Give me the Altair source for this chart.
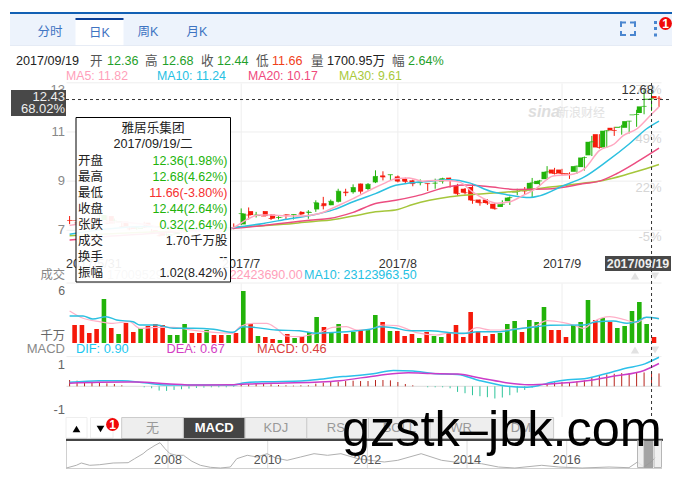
import altair as alt
import pandas as pd

FONT = "Liberation Sans, Noto Sans CJK SC"
GREEN, RED = "#22b30a", "#f5190a"

# ---------- daily candles (2nd of the last two is the session after the crosshair) ----------
open_ = [7.42,7.40,7.42,7.50,7.42,7.58,7.31,7.35,7.12,7.06,7.31,7.00,6.88,6.78,6.85,6.92,7.08,7.02,6.97,7.02,
         7.00,7.00,7.15,7.24,7.78,7.58,7.78,7.64,7.50,7.64,7.62,7.75,7.71,7.85,8.10,8.02,8.16,8.57,8.55,8.90,
         8.68,8.95,9.23,9.25,9.19,9.10,9.03,8.92,8.91,8.91,8.98,9.14,8.82,8.69,8.76,8.25,8.25,8.08,7.95,8.18,
         8.54,8.65,8.62,8.88,9.08,9.47,9.47,9.32,9.38,9.57,10.05,10.91,10.37,11.17,11.17,11.17,11.68,11.77,12.31,12.46]
close = [7.40,7.30,7.35,7.42,7.62,7.28,7.38,7.15,7.06,7.10,7.13,6.92,6.78,6.84,6.93,7.10,7.00,6.95,7.03,6.98,
         6.97,7.10,7.11,7.68,7.62,7.62,7.58,7.48,7.52,7.62,7.64,7.66,7.74,8.12,8.00,8.18,8.59,8.53,8.74,8.59,
         8.87,9.19,9.17,9.26,9.00,8.99,8.90,8.95,8.90,8.92,9.10,9.03,8.49,8.53,8.22,8.12,8.11,7.88,8.06,8.33,
         8.58,8.60,8.93,9.01,9.38,9.31,9.31,9.27,9.61,9.96,10.60,10.37,11.05,11.06,11.21,11.44,11.71,12.04,12.35,12.37]
high = [7.58,7.52,7.48,7.55,7.70,7.60,7.48,7.38,7.15,7.18,7.35,7.05,6.92,6.88,6.98,7.15,7.10,7.05,7.08,7.05,
        7.03,7.14,7.28,7.89,7.93,7.75,7.78,7.66,7.58,7.64,7.64,7.78,7.82,8.22,8.36,8.25,8.69,8.69,8.87,8.90,
        8.92,9.44,9.40,9.26,9.23,9.14,9.06,9.07,8.91,9.10,9.14,9.14,8.89,8.72,8.89,8.25,8.27,8.11,8.22,8.38,
        8.69,8.76,9.13,9.05,9.61,9.54,9.50,9.36,9.63,10.00,10.84,10.91,11.07,11.21,11.29,11.45,11.90,12.69,12.72,12.46]
low = [7.25,7.25,7.30,7.38,7.40,7.25,7.28,7.12,7.00,7.02,7.10,6.88,6.75,6.75,6.82,6.90,6.96,6.92,6.94,6.95,
       6.94,6.98,7.04,7.21,7.44,7.52,7.58,7.42,7.44,7.44,7.44,7.62,7.47,7.75,7.85,8.02,8.13,8.39,8.49,8.49,
       8.63,8.92,9.03,9.03,8.95,8.92,8.79,8.83,8.60,8.69,8.90,8.74,8.41,8.46,8.08,8.00,8.03,7.84,7.95,8.03,
       8.43,8.46,8.35,8.81,9.05,9.27,9.21,9.09,9.30,9.43,10.02,10.32,10.36,10.84,10.89,10.94,11.21,11.72,11.85,12.02]
volume = [18,18,10,14,44,15,9,20,11,15,17,19,18,8,8,19,10,10,13,8,
          8,8,10,52,19,7,6,4,3,9,5,7,11,26,16,10,19,9,11,13,
          13,28,21,12,12,7,9,5,11,7,6,11,18,6,31,11,7,9,10,19,
          22,11,23,21,36,13,13,6,18,21,43,23,25,21,15,17,32,41,19,6]

# ---------- moving averages (bar position, value) ----------
ma5_i = [0,5,10,15,20,22,24,25.4,27,29,31.3,33.5,35.8,38,40.6,42.4,43.7,45.5,47.3,49,51,52.3,54,55.5,57.3,59,60.8,62.6,64.8,67,69,71,73,74.2,76,77.8,79]
ma5_v = [7.2,7.35,7.25,6.95,6.98,7.12,7.48,7.62,7.62,7.58,7.58,7.68,7.98,8.29,8.69,8.94,9.10,9.13,9.00,9.03,9.02,8.96,8.56,8.29,8.10,8.16,8.42,8.72,9.21,9.26,9.50,10.24,10.51,10.85,11.12,11.66,12.02]
ma10_i = [0,5,10,15,20,22,26,29.5,32.6,35.5,38,41,43.7,45.5,48,51,53.7,56.4,58.6,61.7,63,66,69,72,75,77.3,79]
ma10_v = [6.84,7.05,7.15,7.10,7.00,7.11,7.28,7.47,7.62,7.85,8.16,8.49,8.83,8.92,8.99,9.06,8.92,8.59,8.45,8.33,8.40,8.79,9.17,9.80,10.51,11.12,11.44]
ma20_i = [0,5,10,15,20,22,26,29.5,32.6,34.8,38,41,43.7,46.4,51,53,56,60,64,69,71,73.3,76,79]
ma20_v = [6.6,6.75,6.85,6.95,7.03,7.08,7.20,7.32,7.42,7.48,7.73,8.09,8.22,8.39,8.78,8.84,8.78,8.66,8.68,8.90,9.00,9.30,9.77,10.34]
ma30_i = [0,5,10,15,20,22,26,30,33,35,38,41,44,46,51,55.5,60,64.4,69,71.5,74.2,76,79]
ma30_v = [6.78,6.85,6.92,6.97,7.02,7.11,7.19,7.28,7.37,7.42,7.58,7.75,7.85,8.05,8.36,8.49,8.59,8.76,8.92,9.03,9.23,9.39,9.68]

vma5_i = [0,1.8,4,5.8,8,9.4,11.7,13.9,15.7,18.3,21.9,22.8,24.6,26.4,27.7,29,30.8,32.2,33.5,35.3,37.1,38.5,40.3,42,43.8,45.6,46.5,49.2,51,52.8,54.6,56.4,58.1,60.4,62.2,64,66.2,67.5,68.9,70.2,72.4,74.2,76,77.3,79]
vma5_v = [32,24.7,21.3,19.7,21.3,14.7,15.7,15.7,13.7,11.3,9.7,16.3,19.7,19.7,14.7,7,6.3,8,10.3,15.7,16.3,13,13.7,18,17.3,13,10.3,8,10.3,9,15.3,13,13,14.7,16.3,22.3,20.3,18,14.7,21.3,26.3,23.7,20.3,25.7,24.7]
vma10_i = [0,1.8,3.1,4.9,6.3,8.5,9.4,11.7,13.9,16.6,19.3,21.9,23.2,24.6,27.7,30.8,33.1,35.8,38.5,40.3,41.6,43.4,45.6,48.3,51,53.2,54.6,57.7,59.9,62.6,64.4,68.9,70.6,72.9,74.7,76,77.3,79]
vma10_v = [27,27,24,26.3,23,21.3,18,18,14.7,14.7,13.7,10.7,16.3,15.7,13,12.3,9.7,10.7,12.3,13.7,16.3,15.3,12.3,12.3,10.3,9.7,11.3,11.3,14,16.3,17.7,18,21.3,22,19.7,21.3,25.7,24.3]

# ---------- MACD ----------
macd_hist = [.19,.17,.14,.12,.11,.09,.07,.03,0,0,-.03,-.06,-.13,-.14,-.11,-.09,-.07,-.05,-.04,-.03,
             -.03,-.03,-.02,.07,.07,.08,.08,.06,.04,.03,.02,.03,.03,.08,.11,.13,.14,.16,.17,.16,
             .16,.19,.19,.18,.13,.07,.03,0,-.03,-.03,-.03,-.06,-.17,-.21,-.27,-.30,-.33,-.37,-.34,-.27,
             -.19,-.11,-.04,0,.09,.12,.13,.13,.15,.18,.27,.31,.36,.38,.40,.40,.41,.42,.40,.39]
dif_i = [0,4,7,10,13,17,22,23.5,26.5,31,33.5,36.2,37,40.7,43.4,46,48.7,52,55,58.4,61,62.8,64.6,66.8,69,71.7,74.4,77.1,79]
dif_v = [.12,.17,.17,.11,.04,.04,.04,.11,.14,.16,.21,.29,.30,.38,.48,.46,.39,.36,.17,.01,-.03,.02,.12,.20,.23,.37,.54,.68,.88]
dea_i = [0,4,9,13,17,22,25,29,33.5,36.2,41.4,45.4,48.4,52,55.5,58.5,61.5,64.8,69,73,77,79]
dea_v = [.09,.12,.13,.08,.04,.05,.08,.10,.13,.17,.33,.41,.39,.37,.23,.11,.05,.08,.16,.31,.48,.69]

# ---------- navigator (long-run price line) ----------
nav_year = [2005.96,2006.16,2006.26,2006.43,2006.63,2006.9,2007.2,2007.33,2007.5,2007.58,2007.74,2007.84,2007.94,2008.04,2008.17,2008.31,2008.48,2008.65,2008.85,2009.05,2009.25,2009.38,2009.59,2009.79,2009.99,2010.16,2010.39,2010.66,2010.93,2011.2,2011.47,2011.81,2012.34,2012.61,2013.08,2013.49,2013.75,2014.29,2014.63,2014.96,2015.5,2015.84,2016.31,2016.85,2017.25,2017.42,2017.55,2017.69,2017.79]
nav_val = [0,2.7,5,2.7,3.3,5,5.3,9.3,14.3,17.7,22.7,25.3,19.3,14.3,12.7,12.7,6.7,2.7,.7,0,1,9.3,12.7,11,14.3,10,7.7,11,14.3,12.7,14.3,9.3,6,7.7,14.3,7.7,6,4.3,1,0,2.7,1,0,1,.3,6,1,6,11]
nav_years = [2008,2010,2012,2014,2016]

price_ticks = [7,9,11]
pct_ticks = [("-5%",7),("22%",9),("49%",11),("76%",13)]
month_i = [23.0,44.0,66.0]
month_labels = ["2017/7","2017/8","2017/9"]
CROSS_I, CROSS_P = 78, 12.32

idx = list(range(len(open_)))
candles = pd.DataFrame(dict(i=idx,o=open_,c=close,h=high,l=low,v=volume,zero=[0]*len(idx)))
candles["d"] = ["up" if c>=o else "down" for o,c in zip(open_,close)]
hist = pd.DataFrame(dict(i=idx,v=macd_hist,zero=[0]*len(idx)))
hist["d"] = ["p" if v>=0 else "n" for v in macd_hist]

# ---------- scales (chart coordinates = image coordinates minus the 8px margin) ----------
XS = alt.Scale(domain=[0,79], range=[61.6,651.0])
PS = alt.Scale(domain=[7,13], range=[222.3,74.8])
VS = alt.Scale(domain=[0,60], range=[335,275])
MS = alt.Scale(domain=[-1,1], range=[411.3,345.3])
NX = alt.Scale(domain=[2008,2016], range=[160,558.7])
NY = alt.Scale(domain=[0,27], range=[460,433])
DIR = alt.Scale(domain=["up","down"], range=[GREEN,RED])
X = alt.X("i:Q", scale=XS, axis=None)
def Y(f, s): return alt.Y(f, scale=s, axis=None)
PX = alt.X("x:Q", scale=None, axis=None)
PY = alt.Y("y:Q", scale=None, axis=None)

def txt(rows, align="left", size=12.5, **kw):
    df = pd.DataFrame([dict(x=r[0]-8,y=r[1]-8,t=r[2],c=r[3]) for r in rows])
    return alt.Chart(df).mark_text(font=FONT,fontSize=size,align=align,baseline="middle",**kw).encode(
        x=PX,y=PY,text="t:N",color=alt.Color("c:N",scale=None))

def rects(rows, **kw):
    df = pd.DataFrame([dict(x=r[0]-8,x2=r[1]-8,y=r[2]-8,y2=r[3]-8,c=r[4]) for r in rows])
    return alt.Chart(df).mark_rect(**kw).encode(x=PX,x2="x2:Q",y=PY,y2="y2:Q",color=alt.Color("c:N",scale=None))

def marks(rows, shape, size, color):
    df = pd.DataFrame([dict(x=r[0]-8,y=r[1]-8) for r in rows])
    return alt.Chart(df).mark_point(shape=shape,filled=True,size=size,color=color,opacity=1,strokeWidth=0).encode(x=PX,y=PY)

def hlines(vals, scale, color="#eeeeee"):
    df = pd.DataFrame(dict(v=vals))
    return alt.Chart(df).mark_rule(color=color,strokeWidth=1).encode(y=Y("v:Q",scale),x=alt.value(58.5),x2=alt.value(653.5))

def vgrid(y0,y1):
    df = pd.DataFrame(dict(i=month_i))
    return alt.Chart(df).mark_rule(color="#eeeeee",strokeWidth=1).encode(x=X,y=alt.value(y0-8),y2=alt.value(y1-8))

def line(xs, vs, color, scale, width=1.5):
    df = pd.DataFrame(dict(i=xs,v=vs))
    return alt.Chart(df).mark_line(color=color,strokeWidth=width,interpolate="monotone").encode(x=X,y=Y("v:Q",scale))

L = []
# ---------- chrome ----------
L.append(rects([(10,672,14,45.5,"#edf3fc"),(10,672,12,14,"#1260b4"),(75.5,123.5,20,46,"#ffffff"),(75.5,123.5,18,20,"#0c3f96"),
                (10,672,45,45.7,"#dfe6f2")]))
L.append(txt([(50,32,"分时","#3f74c2"),(99.5,32.5,"日K","#3f74c2"),(148,32,"周K","#3f74c2"),(197,32,"月K","#3f74c2")],align="center",size=12.5))
c="#4a86d0"
L.append(rects([(620,626,21.5,23.5,c),(630,636,21.5,23.5,c),(620,626,34,36,c),(630,636,34,36,c),
                (620,622,21.5,27,c),(634,636,21.5,27,c),(620,622,31,36,c),(634,636,31,36,c),
                (654,657,21,24,c),(654,657,27,30,c),(654,657,33.5,36.5,c)]))
L.append(marks([(665.5,23.5)],"circle",165,"#f00808"))
L.append(txt([(665.5,23.5,"1","#ffffff")],align="center",size=12,fontWeight="bold"))
GR="#1fa02a"
L.append(txt([(16,60.5,"2017/09/19","#222222"),(90,60.5,"开","#555555"),(107,60.5,"12.36",GR),(145,60.5,"高","#555555"),(162,60.5,"12.68",GR),
              (201,60.5,"收","#555555"),(217,60.5,"12.44",GR),(256,60.5,"低","#555555"),(272,60.5,"11.66","#f0401a"),(311,60.5,"量","#555555"),
              (327,60.5,"1700.95万","#222222"),(392,60.5,"幅","#555555"),(408,60.5,"2.64%",GR)],size=12.6))
L.append(txt([(66,75.5,"MA5: 11.82","#ff9fba"),(157,75.5,"MA10: 11.24","#25c1e3"),(248,75.5,"MA20: 10.17","#f0497d"),(339,75.5,"MA30: 9.61","#a9c93a")],size=12.3))

# ---------- grids ----------
L.append(hlines(price_ticks+[13], PS))
L.append(vgrid(83.5,250))
L.append(vgrid(283.5,343))
L.append(vgrid(357,417))
L.append(alt.Chart(pd.DataFrame(dict(v=[60]))).mark_rule(color="#eeeeee").encode(y=Y("v:Q",VS),x=alt.value(58.5),x2=alt.value(653.5)))
L.append(alt.Chart(pd.DataFrame(dict(v=[0.9]))).mark_rule(color="#eeeeee").encode(y=Y("v:Q",MS),x=alt.value(58.5),x2=alt.value(653.5)))
L.append(alt.Chart(pd.DataFrame(dict(v=[0]))).mark_rule(color="#dddddd").encode(y=Y("v:Q",MS),x=alt.value(58.5),x2=alt.value(653.5)))

# ---------- axis labels ----------
pl = pd.DataFrame(dict(v=price_ticks,t=[str(p) for p in price_ticks]))
L.append(alt.Chart(pl).mark_text(font=FONT,fontSize=13,align="right",baseline="middle",color="#888888").encode(
    x=alt.value(57),y=Y("v:Q",PS),text="t:N"))
L.append(txt([(65,90,"13","#888888")],align="right",size=13))
pr = pd.DataFrame(dict(v=[p[1] for p in pct_ticks],t=[p[0] for p in pct_ticks]))
L.append(alt.Chart(pr).mark_text(font=FONT,fontSize=13,align="right",baseline="middle",color="#d6d6d6",dy=7).encode(
    x=alt.value(653.5),y=Y("v:Q",PS),text="t:N"))
# watermark
L.append(txt([(528,112,"sina","#dedede")],size=16,fontWeight="bold",fontStyle="italic"))
L.append(txt([(557,112.5,"新浪财经","#e2e2e2")],size=12))

# ---------- price panel ----------
dc = alt.Color("d:N",scale=DIR,legend=None)
base = alt.Chart(candles)
L.append(base.mark_rule(strokeWidth=1).encode(x=X,y=Y("h:Q",PS),y2="l:Q",color=dc))
L.append(base.mark_bar(size=5).encode(x=X,y=Y("o:Q",PS),y2="c:Q",color=dc))
L.append(base.mark_tick(orient="horizontal",size=5,thickness=1).encode(x=X,y=Y("c:Q",PS),color=dc))
L.append(line(ma30_i,ma30_v,"#a5c63b",PS))
L.append(line(ma20_i,ma20_v,"#ec4d80",PS))
L.append(line(ma10_i,ma10_v,"#2cc0e0",PS))
L.append(line(ma5_i,ma5_v,"#ffa7c0",PS))

# ---------- crosshair labels ----------
L.append(rects([(11,66,90,116,"#484848")]))
L.append(txt([(65,97,"12.43","#eeeeee"),(65,109,"68.02%","#eeeeee")],align="right",size=13))
L.append(txt([(654,90,"12.68","#333333")],align="right",size=13))

# date strip
ml = pd.DataFrame(dict(i=month_i,t=month_labels))
L.append(alt.Chart(ml).mark_text(font=FONT,fontSize=12.5,baseline="middle",align="center",color="#333333").encode(
    x=X,y=alt.value(255.5),text="t:N"))
L.append(txt([(66,263.5,"2017/5/31","#333333")],size=12.5))
L.append(rects([(605,671,256,271,"#484848")]))
L.append(txt([(638,263.5,"2017/09/19","#eeeeee")],align="center",size=12.5,fontWeight="bold"))

# ---------- volume ----------
L.append(txt([(65,275,"成交","#888888"),(65,291,"6","#666666"),(65,336,"千万","#666666")],align="right",size=12.3))
L.append(txt([(107,275,"17009529.00","#999999"),(197,275,"MA5: 22423690.00","#ff9fba"),(304,275,"MA10: 23123963.50","#25c1e3")],size=12.5))
L.append(base.mark_bar(size=4.6).encode(x=X,y=Y("v:Q",VS),y2="zero:Q",color=dc))
L.append(line(vma5_i,vma5_v,"#ffb0c8",VS,1.2))
L.append(line(vma10_i,vma10_v,"#2cc0e0",VS,1.4))
L.append(marks([(635,276),(635,350)],"triangle-up",70,"#e2e2e2"))
L.append(marks([(655,276),(655,350)],"triangle-down",70,"#e2e2e2"))

# ---------- MACD ----------
L.append(txt([(65,349,"MACD","#888888"),(65,365,"1","#666666"),(65,410,"-1","#666666")],align="right",size=13))
L.append(txt([(76,349,"DIF: 0.90","#1cc8f0"),(166.5,349,"DEA: 0.67","#d43fc4"),(257,349,"MACD: 0.46","#d94040")],size=12.8))
L.append(alt.Chart(hist).mark_rule(strokeWidth=1).encode(x=X,y=Y("v:Q",MS),y2="zero:Q",
    color=alt.Color("d:N",scale=alt.Scale(domain=["p","n"],range=["#b8241c","#2cc49a"]),legend=None)))
L.append(line(dif_i,dif_v,"#2cc0ea",MS))
L.append(line(dea_i,dea_v,"#cc3cc8",MS))

# ---------- crosshair ----------
L.append(alt.Chart(pd.DataFrame(dict(i=[CROSS_I]))).mark_rule(color="#333333",strokeDash=[3,3],strokeWidth=1).encode(
    x=X,y=alt.value(75),y2=alt.value(409)))
L.append(alt.Chart(pd.DataFrame(dict(v=[CROSS_P]))).mark_rule(color="#333333",strokeDash=[3,3],strokeWidth=1).encode(
    y=Y("v:Q",PS),x=alt.value(58),x2=alt.value(663.5)))

# ---------- tool bar ----------
tabs = ["无","MACD","KDJ","RSI","BOLL","WR","DMI"]
tab_x = [121.7+61.7*k for k in range(len(tabs))]
L.append(rects([(66,87,417.5,438,"#ffffff"),(90.5,113,417.5,438,"#ffffff")],stroke="#eeeeee"))
L.append(rects([(x,x+61.7,417.5,438.5,"#444444" if t=="MACD" else "#eeeeee") for x,t in zip(tab_x,tabs)],stroke="#cccccc"))
L.append(txt([(x+30.8,428,t,"#ffffff") for x,t in zip(tab_x,tabs) if t=="MACD"],align="center",size=13,fontWeight="bold"))
L.append(txt([(x+30.8,428,t,"#999999") for x,t in zip(tab_x,tabs) if t!="MACD"],align="center",size=13))
L.append(marks([(76.5,429)],"triangle-up",60,"#000000"))
L.append(marks([(100.5,429)],"triangle-down",60,"#000000"))
L.append(marks([(112.5,424.5)],"circle",165,"#f00808"))
L.append(txt([(112.5,424.5,"1","#ffffff")],align="center",size=12,fontWeight="bold"))
L.append(rects([(66,663,438.8,441,"#444444"),(66,662,468,469,"#d0d0d0"),(66,67,441,468,"#d0d0d0")]))

# ---------- navigator ----------
ny = pd.DataFrame(dict(y=nav_years,t=[str(n) for n in nav_years]))
L.append(alt.Chart(ny).mark_rule(color="#dddddd").encode(x=alt.X("y:Q",scale=NX,axis=None),y=alt.value(433),y2=alt.value(460)))
L.append(alt.Chart(pd.DataFrame(dict(y=nav_year,v=nav_val))).mark_line(color="#b0b0b0",strokeWidth=1).encode(
    x=alt.X("y:Q",scale=NX,axis=None),y=Y("v:Q",NY)))
L.append(alt.Chart(ny).mark_text(font=FONT,fontSize=12.5,baseline="middle",align="center",color="#555555").encode(
    x=alt.X("y:Q",scale=NX,axis=None),y=alt.value(452),text="t:N"))
L.append(rects([(644,653,441,468,"#999999")],opacity=0.9))
L.append(rects([(637.5,644,440.5,467.5,"#eeeeee"),(654,661.5,440.5,467.5,"#eeeeee")],stroke="#aaaaaa",opacity=0.85))

# ---------- tooltip ----------
L.append(rects([(76,230.5,117.5,282,"#ffffff")],stroke="#000000",strokeWidth=1,opacity=1,fillOpacity=0.93))
L.append(txt([(153,128,"雅居乐集团","#222222"),(153,144,"2017/09/19/二","#222222")],align="center",size=12.6))
rows = ["开盘","最高","最低","收盘","张跌","成交","换手","振幅"]
vals = [("12.36(1.98%)",GREEN),("12.68(4.62%)",GREEN),("11.66(-3.80%)","#f53030"),("12.44(2.64%)",GREEN),("0.32(2.64%)",GREEN),("1.70千万股","#222222"),("--","#222222"),("1.02(8.42%)","#222222")]
ys = [160.5,176.5,192.5,208.5,224.5,240.5,256.5,272.5]
L.append(txt([(78,y,r,"#222222") for y,r in zip(ys,rows)],size=12.5))
L.append(txt([(227.5,y,v[0],v[1]) for y,v in zip(ys,vals)],align="right",size=12.5))

# ---------- overlay caption ----------
L.append(txt([(342,431,"gzstk–jbk.com","#000000")],size=50.5))

chart = (alt.layer(*L)
         .resolve_scale(x="independent",y="independent",color="independent")
         .properties(width=667,height=461,padding=0,autosize=alt.AutoSizeParams(type="none"))
         .configure_view(stroke=None))
chart.save("out.html", embed_options={"renderer":"svg","actions":False})
